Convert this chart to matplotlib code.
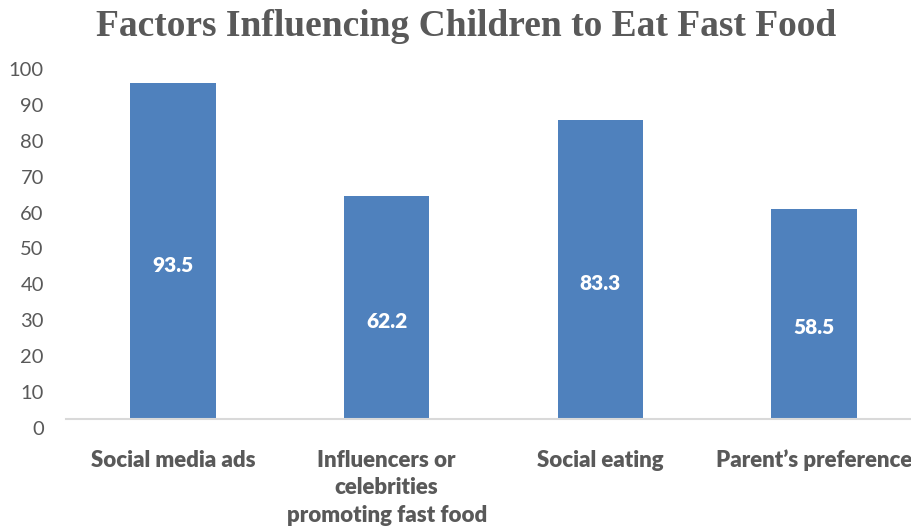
import matplotlib.pyplot as plt
import matplotlib.transforms as mtransforms
import numpy as np

categories = ['Social media ads', 'Influencers or\ncelebrities\npromoting fast food',
              'Social eating', 'Parent\u2019s preference']
values = [93.5, 62.2, 83.3, 58.5]
yticks = np.arange(0, 101, 10)

bar_color = '#4F81BD'
text_gray = '#595959'

fig = plt.figure(figsize=(9.12, 5.31), dpi=100)
ax = fig.add_axes([0.0724, 0.211, 0.9375, 0.676])

x = np.arange(len(categories))
bars = ax.bar(x, values, width=0.4, color=bar_color)

# Value labels near the middle of each bar (slightly below, as in the original)
down = mtransforms.ScaledTranslation(0, -14 / 100, fig.dpi_scale_trans)
for b, v in zip(bars, values):
    ax.text(b.get_x() + b.get_width() / 2, v / 2, f'{v}', ha='center', va='center',
            color='white', fontsize=15, fontweight='heavy', family='Lato',
            transform=ax.transData + down)

ax.set_xlim(-0.5, 3.5)
ax.set_ylim(0, 100)
ax.set_yticks(yticks)
ax.set_yticklabels([str(t) for t in yticks], fontsize=14.5, color=text_gray, family='Lato')
ax.tick_params(axis='y', length=0, pad=16)

ax.set_xticks(x)
ax.set_xticklabels(categories, fontsize=16, fontweight='heavy', color=text_gray,
                   family='Lato', linespacing=1.4, va='top')
ax.tick_params(axis='x', length=0, pad=22)

# tick labels sit a little below their gridline positions in the original
offset = mtransforms.ScaledTranslation(0, -9 / 100, fig.dpi_scale_trans)
for lbl in ax.get_yticklabels():
    lbl.set_transform(lbl.get_transform() + offset)

for side in ['top', 'right', 'left']:
    ax.spines[side].set_visible(False)
ax.spines['bottom'].set_color('#D9D9D9')
ax.spines['bottom'].set_linewidth(1.5)

fig.text(0.511, 0.95, 'Factors Influencing Children to Eat Fast Food', ha='center', va='center',
         fontsize=27, fontweight='bold', color=text_gray, family='Liberation Serif')

fig.savefig('out.png', dpi=100)
